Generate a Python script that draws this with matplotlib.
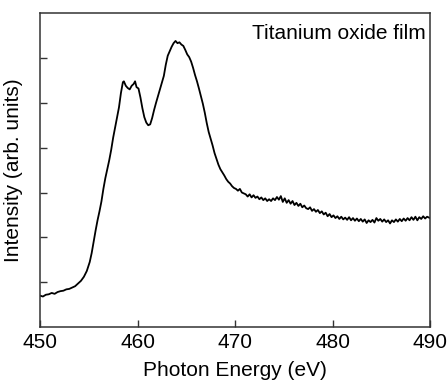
import numpy as np
import matplotlib.pyplot as plt

plt.rcParams['font.family'] = ['Liberation Sans', 'DejaVu Sans']

# Espectro (energía en eV, intensidad en unidades arbitrarias)
energy = [
    450.0, 450.3, 450.6, 450.9, 451.2, 451.5, 451.8, 452.1, 452.4, 452.7,
    453.0, 453.3, 453.6, 453.9, 454.2, 454.5, 454.8, 455.1, 455.3, 455.5,
    455.7, 455.9, 456.1, 456.3, 456.5, 456.7, 456.9, 457.1, 457.3, 457.5,
    457.7, 457.9, 458.1, 458.3, 458.5, 458.6, 458.8, 459.0, 459.2, 459.4,
    459.6, 459.75, 459.9, 460.1, 460.3, 460.5, 460.7, 460.9, 461.1, 461.3,
    461.5, 461.7, 461.9, 462.1, 462.3, 462.5, 462.7, 462.9, 463.1, 463.3,
    463.5, 463.7, 463.9, 464.1, 464.3, 464.5, 464.7, 464.9, 465.1, 465.3,
    465.5, 465.7, 465.9, 466.1, 466.3, 466.5, 466.7, 466.9, 467.1, 467.3,
    467.5, 467.7, 467.9, 468.1, 468.3, 468.5, 468.7, 468.9, 469.1, 469.3,
    469.5, 469.7, 469.9, 470.1, 470.3, 470.5, 470.7, 470.9, 471.1, 471.3,
    471.5, 471.7, 471.9, 472.1, 472.3, 472.5, 472.7, 472.9, 473.1, 473.3,
    473.5, 473.7, 473.9, 474.1, 474.3, 474.5, 474.7, 474.9, 475.1, 475.3,
    475.5, 475.7, 475.9, 476.1, 476.3, 476.5, 476.7, 476.9, 477.1, 477.3,
    477.5, 477.7, 477.9, 478.1, 478.3, 478.5, 478.7, 478.9, 479.1, 479.3,
    479.5, 479.7, 479.9, 480.1, 480.3, 480.5, 480.7, 480.9, 481.1, 481.3,
    481.5, 481.7, 481.9, 482.1, 482.3, 482.5, 482.7, 482.9, 483.1, 483.3,
    483.5, 483.7, 483.9, 484.1, 484.3, 484.5, 484.7, 484.9, 485.1, 485.3,
    485.5, 485.7, 485.9, 486.1, 486.3, 486.5, 486.7, 486.9, 487.1, 487.3,
    487.5, 487.7, 487.9, 488.1, 488.3, 488.5, 488.7, 488.9, 489.1, 489.3,
    489.5, 489.7, 490.0,
]
intensity = [
    0.70, 0.68, 0.72, 0.73, 0.76, 0.74, 0.78, 0.80, 0.81, 0.84,
    0.85, 0.88, 0.91, 0.97, 1.03, 1.12, 1.25, 1.45, 1.65, 1.90,
    2.15, 2.38, 2.58, 2.80, 3.08, 3.32, 3.52, 3.72, 3.95, 4.22,
    4.45, 4.68, 4.90, 5.22, 5.46, 5.48, 5.38, 5.33, 5.30, 5.38,
    5.42, 5.48, 5.35, 5.32, 5.12, 4.88, 4.68, 4.56, 4.50, 4.52,
    4.66, 4.84, 5.00, 5.15, 5.30, 5.45, 5.60, 5.85, 6.05, 6.15,
    6.25, 6.33, 6.38, 6.33, 6.35, 6.30, 6.27, 6.18, 6.08, 6.02,
    5.92, 5.78, 5.62, 5.48, 5.32, 5.15, 4.98, 4.78, 4.55, 4.35,
    4.20, 4.05, 3.88, 3.75, 3.62, 3.52, 3.45, 3.38, 3.30, 3.24,
    3.20, 3.14, 3.10, 3.08, 3.04, 3.08, 3.00, 2.98, 2.96, 2.91,
    2.96, 2.89, 2.94, 2.88, 2.91, 2.85, 2.89, 2.83, 2.87, 2.81,
    2.85, 2.81, 2.87, 2.83, 2.90, 2.84, 2.92, 2.79, 2.87, 2.77,
    2.83, 2.75, 2.81, 2.72, 2.77, 2.70, 2.75, 2.67, 2.71, 2.65,
    2.63, 2.67, 2.59, 2.63, 2.57, 2.61, 2.54, 2.58, 2.51, 2.55,
    2.47, 2.52, 2.45, 2.49, 2.43, 2.47, 2.41, 2.46, 2.40, 2.44,
    2.39, 2.45, 2.38, 2.43, 2.37, 2.42, 2.36, 2.41, 2.35, 2.40,
    2.32, 2.38, 2.34, 2.39, 2.33, 2.43, 2.37, 2.41, 2.35, 2.40,
    2.34, 2.38, 2.31, 2.38, 2.34, 2.40, 2.35, 2.41, 2.36, 2.42,
    2.37, 2.43, 2.38, 2.45, 2.39, 2.46, 2.38, 2.45, 2.41, 2.47,
    2.42, 2.46, 2.43,
]

x_ticks = [450, 460, 470, 480, 490]
y_ticks = [1, 2, 3, 4, 5, 6]

fig = plt.figure(figsize=(4.47, 3.87), dpi=100)
ax = fig.add_axes([0.0895, 0.155, 0.8725, 0.811])

ax.plot(energy, intensity, color='black', linewidth=1.3)

ax.set_xlim(450, 490)
ax.set_ylim(0, 7)
ax.set_xticks(x_ticks)
ax.set_yticks(y_ticks)
ax.set_yticklabels([])
ax.tick_params(direction='in', length=5, width=1, colors='#333333',
               labelcolor='black', labelsize=15, pad=4)

for s in ax.spines.values():
    s.set_color('#333333')
    s.set_linewidth(1.1)

ax.set_xlabel('Photon Energy (eV)', fontsize=15, labelpad=7)
ax.set_ylabel('Intensity (arb. units)', fontsize=15, labelpad=8)
ax.text(0.988, 0.965, 'Titanium oxide film', transform=ax.transAxes,
        ha='right', va='top', fontsize=15)

fig.savefig('out.png', dpi=100)
